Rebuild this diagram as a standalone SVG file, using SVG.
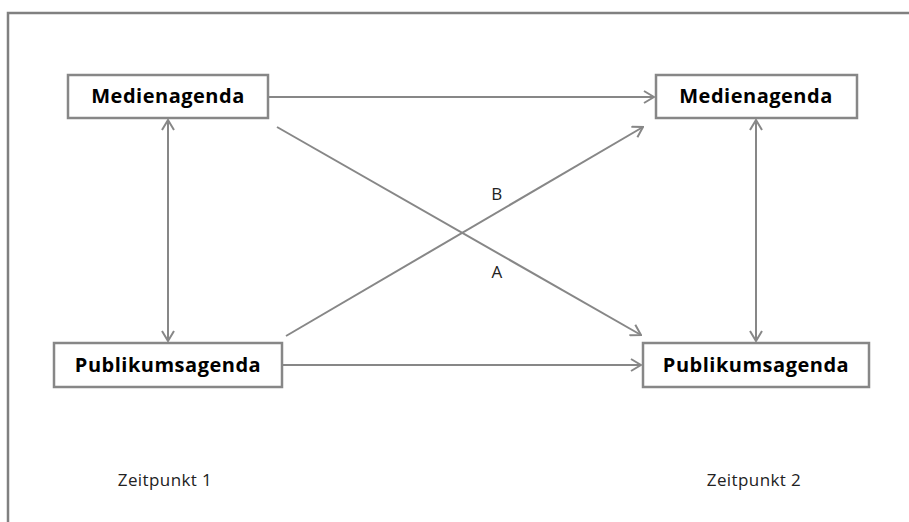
<svg xmlns="http://www.w3.org/2000/svg" width="909" height="522" viewBox="0 0 909 522">
<style>
.frame{fill:none;stroke:#808080;stroke-width:2.5}
.box{fill:#fff;stroke:#878787;stroke-width:2.5}
.lbl{font-family:"Open Sans","Noto Sans",sans-serif;font-weight:bold;font-size:20px;letter-spacing:0.5px;fill:#000;text-anchor:middle}
.txt{font-family:"Open Sans","Noto Sans",sans-serif;font-size:17px;letter-spacing:0.4px;fill:#222;text-anchor:middle}
.con{fill:none;stroke:#878787;stroke-width:2}
</style>
<defs>
<marker id="arr" markerUnits="userSpaceOnUse" viewBox="0 0 12 14" refX="11" refY="7" markerWidth="12" markerHeight="14" orient="auto-start-reverse">
<path d="M1,1 L11,7 L1,13" fill="none" stroke="#878787" stroke-width="2"/>
</marker>
</defs>
<rect x="0" y="0" width="909" height="522" fill="#fff"/>
<path class="frame" d="M8,522 V13 H909"/>
<g id="connectors">
<line class="con" x1="168" y1="120" x2="168" y2="341" marker-start="url(#arr)" marker-end="url(#arr)"/>
<line class="con" x1="756" y1="120" x2="756" y2="341" marker-start="url(#arr)" marker-end="url(#arr)"/>
<line class="con" x1="269" y1="97" x2="654" y2="97" marker-end="url(#arr)"/>
<line class="con" x1="283" y1="365" x2="641" y2="365" marker-end="url(#arr)"/>
<line class="con" x1="277" y1="127" x2="641" y2="335" marker-end="url(#arr)"/>
<line class="con" x1="286" y1="336" x2="643" y2="127" marker-end="url(#arr)"/>
<text class="txt" x="497" y="200">B</text>
<text class="txt" x="497" y="278">A</text>
</g>
<g id="media1">
<rect class="box" x="68" y="75" width="200" height="43"/>
<text class="lbl" x="168" y="103">Medienagenda</text>
</g>
<g id="media2">
<rect class="box" x="656" y="75" width="201" height="43"/>
<text class="lbl" x="756" y="103">Medienagenda</text>
</g>
<g id="public1">
<rect class="box" x="54" y="343" width="228" height="44"/>
<text class="lbl" x="168" y="372">Publikumsagenda</text>
</g>
<g id="public2">
<rect class="box" x="643" y="343" width="226" height="44"/>
<text class="lbl" x="756" y="372">Publikumsagenda</text>
</g>
<text class="txt" x="165" y="486">Zeitpunkt 1</text>
<text class="txt" x="754" y="486">Zeitpunkt 2</text>
</svg>
